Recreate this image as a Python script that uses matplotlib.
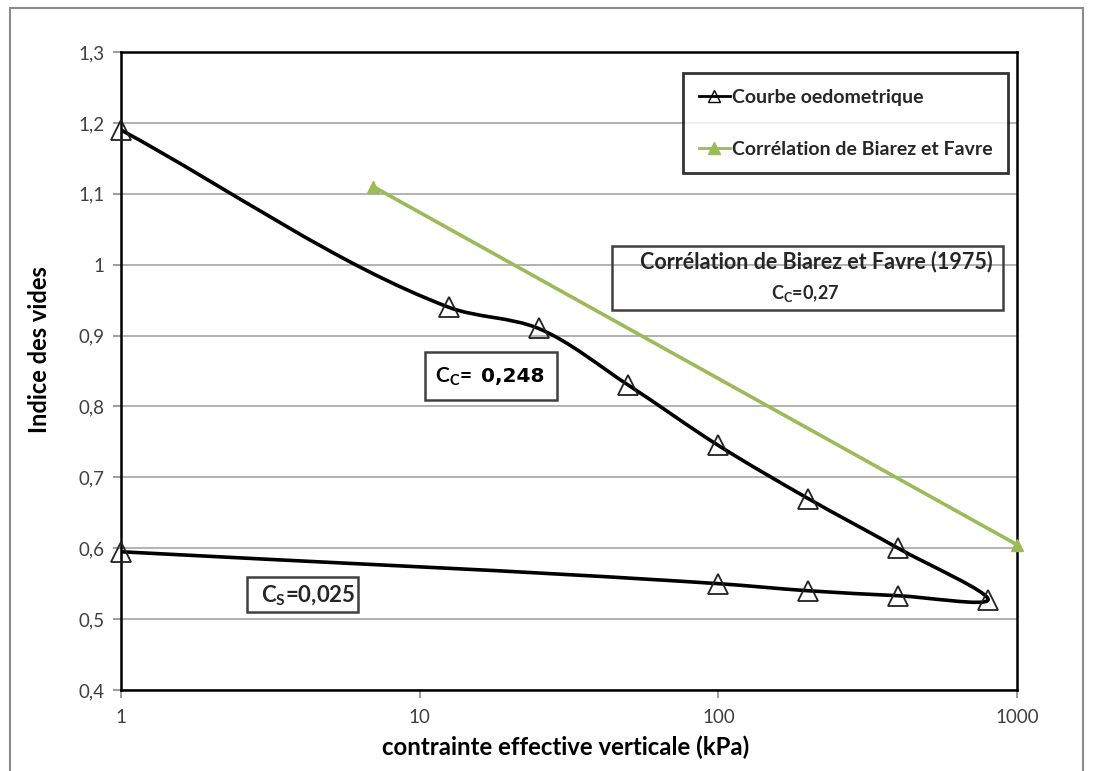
#!/usr/bin/env python3
"""
Courbe oedometrique (indice des vides vs contrainte effective verticale, log x)
avec la correlation de Biarez et Favre.
"""

import numpy as np
import matplotlib.pyplot as plt
from matplotlib.lines import Line2D
from matplotlib.path import Path
from matplotlib.patches import PathPatch, Rectangle

# oedometer test: loading then unloading, in test order
sigma_oedo = [1, 12.5, 25, 50, 100, 200, 400, 800, 400, 200, 100, 1]
e_oedo = [1.19, 0.94, 0.91, 0.83, 0.745, 0.67, 0.60, 0.527, 0.533, 0.54, 0.55, 0.595]

# Biarez & Favre correlation (two end points)
sigma_bf = [7, 1000]
e_bf = [1.11, 0.605]

y_ticks = [0.4, 0.5, 0.6, 0.7, 0.8, 0.9, 1.0, 1.1, 1.2, 1.3]
y_tick_labels = ["0,4", "0,5", "0,6", "0,7", "0,8", "0,9", "1", "1,1", "1,2", "1,3"]
x_ticks = [1, 10, 100, 1000]
x_tick_labels = ["1", "10", "100", "1000"]

GREEN = "#9bbb59"
FONT = ["Lato", "DejaVu Sans"]
W, H = 1093, 771


def smooth_path(xs, ys, sx=298.7, sy=709.0, k=0.33):
    # smoothed line like a spreadsheet chart: cubic Beziers, tangents from the mean of the
    # unit in/out directions (short at sharp turns), scaled by chord length
    pts = np.column_stack([np.log10(xs) * sx, np.asarray(ys) * sy])
    n = len(pts)
    units = [(pts[i + 1] - pts[i]) / np.hypot(*(pts[i + 1] - pts[i])) for i in range(n - 1)]
    tang = []
    for i in range(n):
        u_in = units[i - 1] if i > 0 else units[0]
        u_out = units[i] if i < n - 1 else units[-1]
        tang.append((u_in + u_out) / 2)
    verts = [pts[0]]
    codes = [Path.MOVETO]
    for i in range(n - 1):
        L = np.hypot(*(pts[i + 1] - pts[i]))
        verts += [pts[i] + tang[i] * L * k, pts[i + 1] - tang[i + 1] * L * k, pts[i + 1]]
        codes += [Path.CURVE4] * 3
    verts = np.array(verts)
    verts[:, 0] = 10 ** (verts[:, 0] / sx)
    verts[:, 1] = verts[:, 1] / sy
    return Path(verts, codes)


def add_box(fig, x0, y0, x1, y1, fc):
    fig.patches.append(Rectangle((x0 / W, 1 - y1 / H), (x1 - x0) / W, (y1 - y0) / H,
                                 transform=fig.transFigure, facecolor=fc,
                                 edgecolor="#404040", linewidth=1.8, zorder=5))


def main():
    plt.rcParams["font.family"] = FONT
    fig = plt.figure(figsize=(W / 100, H / 100), dpi=100)
    ax = fig.add_axes([121 / W, 1 - 690 / H, (1017 - 121) / W, (690 - 52) / H])

    ax.set_xscale("log")
    ax.set_xlim(1, 1000)
    ax.set_ylim(0.4, 1.3)

    ax.yaxis.grid(True, color="#a6a6a6", linewidth=1.2)
    ax.set_axisbelow(True)

    # oedometer curve
    ax.add_patch(PathPatch(smooth_path(sigma_oedo, e_oedo), transform=ax.transData,
                           fill=False, edgecolor="black", linewidth=2.6, zorder=3,
                           joinstyle="round", capstyle="round"))
    ax.plot(sigma_oedo, e_oedo, linestyle="none", marker="^", markersize=15,
            markerfacecolor="none", markeredgecolor="#222222", markeredgewidth=1.3,
            zorder=4, clip_on=False)

    # Biarez & Favre
    ax.plot(sigma_bf, e_bf, color=GREEN, linewidth=2.6, marker="^", markersize=9,
            markerfacecolor=GREEN, markeredgecolor=GREEN, zorder=3, clip_on=False)

    ax.set_xticks(x_ticks)
    ax.set_xticklabels(x_tick_labels)
    ax.xaxis.set_minor_locator(plt.NullLocator())
    ax.set_yticks(y_ticks)
    ax.set_yticklabels(y_tick_labels)
    ax.tick_params(axis="both", colors="#8c8c8c", labelcolor="#404040",
                   labelsize=13.5, length=6, width=1.2)
    ax.tick_params(axis="x", pad=8)
    ax.tick_params(axis="y", pad=6)
    for s in ax.spines.values():
        s.set_linewidth(1.8)
        s.set_color("black")

    ax.set_xlabel("contrainte effective verticale (kPa)", fontsize=17.3, fontweight="bold")
    ax.xaxis.set_label_coords(0.496, -0.072)
    ax.set_ylabel("Indice des vides", fontsize=17, fontweight="bold")
    ax.yaxis.label.set_verticalalignment("center")
    ax.yaxis.set_label_coords((40 - 121) / 896, (690 - 350) / 638)

    # legend
    handles = [
        Line2D([], [], color="black", linewidth=2, marker="^", markersize=8,
               markerfacecolor="none", markeredgecolor="black"),
        Line2D([], [], color=GREEN, linewidth=2, marker="^", markersize=8,
               markerfacecolor=GREEN, markeredgecolor=GREEN),
    ]
    leg = ax.legend(handles, ["Courbe oedometrique", "Corrélation de Biarez et Favre"],
                    loc="upper left", bbox_to_anchor=((683 - 121) / 896, (690 - 73) / 638),
                    fontsize=14, frameon=True, fancybox=False, handlelength=1.6,
                    handletextpad=0.1, labelspacing=1.8, borderpad=0.8, borderaxespad=0)
    leg.get_frame().set_edgecolor("black")
    leg.get_frame().set_linewidth(2)
    for t in leg.get_texts():
        t.set_fontweight("bold")
        t.set_color("#262626")

    # annotation boxes
    add_box(fig, 612, 246, 1003, 310, "none")
    add_box(fig, 425, 352, 557, 400, "white")
    add_box(fig, 247, 577, 358, 612, "white")

    fig.text(816 / W, 1 - 262 / H, "Corrélation de Biarez et Favre (1975)", fontsize=15.5,
             fontweight="bold", color="#262626", ha="center", va="center", zorder=6)
    fig.text(805 / W, 1 - 293 / H, r"$\mathregular{C_C}$=0,27", fontsize=13,
             fontweight="bold", color="#262626", ha="center", va="center", zorder=6)
    fig.text(472 / W, 1 - 377 / H, r"$\mathregular{C_C}$=", fontsize=15,
             fontweight="bold", color="black", ha="right", va="center", zorder=6)
    fig.text(481 / W, 1 - 376 / H, "0,248", fontsize=14.5, family="DejaVu Sans",
             fontweight="bold", color="black", ha="left", va="center", zorder=6)
    fig.text(308 / W, 1 - 596 / H, r"$\mathregular{C_S}$=0,025", fontsize=16,
             fontweight="bold", color="#262626", ha="center", va="center", zorder=6)

    # outer chart-area frame
    fig.patches.append(Rectangle((10 / W, -0.05), (1083 - 10) / W, 1.05 - 8 / H,
                                 transform=fig.transFigure, facecolor="none",
                                 edgecolor="#8c8c8c", linewidth=1.5, zorder=0))

    fig.savefig("out.png", dpi=100)


if __name__ == "__main__":
    main()
